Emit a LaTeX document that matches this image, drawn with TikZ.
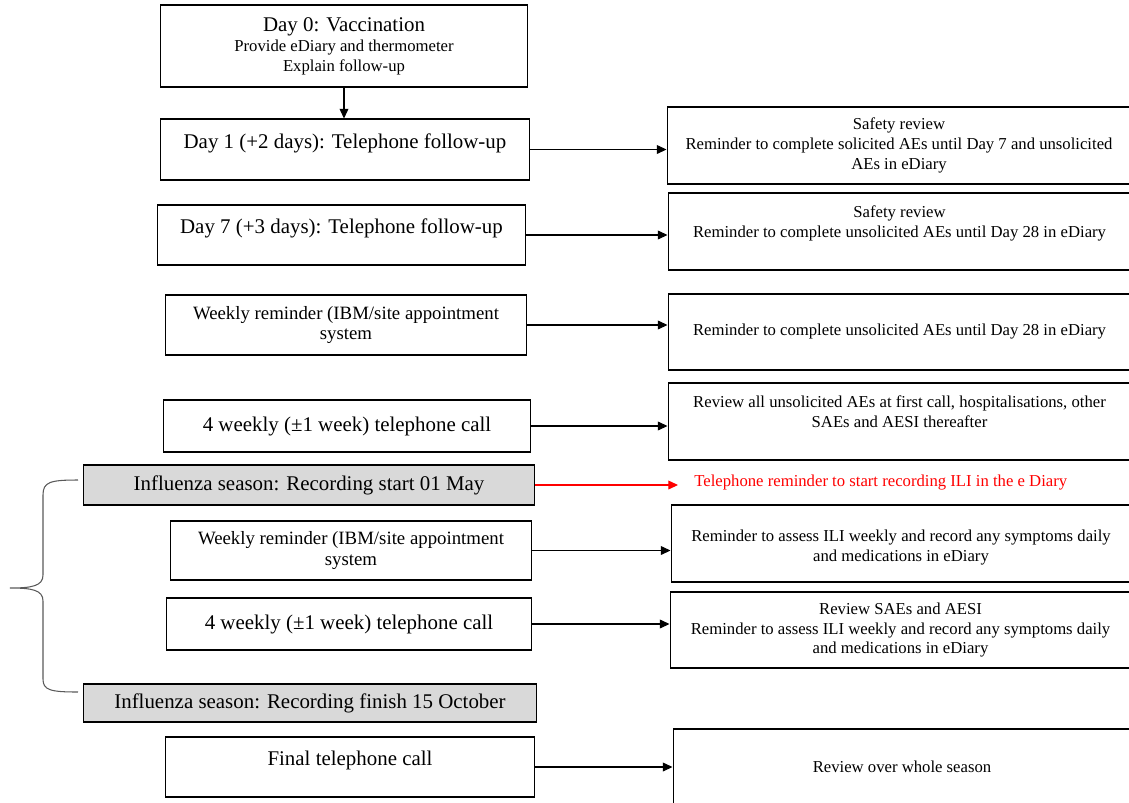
\documentclass[tikz,border=0pt]{standalone}
\usepackage{fontspec}
\setmainfont{Liberation Serif}
\usetikzlibrary{arrows.meta}
\newcommand{\bigtxt}{\fontsize{11.9}{14}\selectfont}
\newcommand{\midtxt}{\fontsize{10.7}{11.9}\selectfont}
\newcommand{\smalltxt}{\fontsize{9.5}{11.3}\selectfont}
\begin{document}
\begin{tikzpicture}[
  x=0.02cm, y=-0.02cm,
  line width=0.6pt,
  box/.style={draw, align=center, inner sep=2pt},
  lbox/.style={box, font=\bigtxt},
  wbox/.style={box, font=\midtxt},
  rbox/.style={box, font=\smalltxt},
  gbox/.style={box, fill=gray!30, font=\bigtxt},
  arr/.style={-{Triangle[length=5.5pt,width=5pt]}}
]
\clip (0,0) rectangle (1129,802);
\node[rbox, minimum width=7.36cm, minimum height=1.64cm] (d0) at (344,46) {{\bigtxt Day 0: Vaccination}\\Provide eDiary and thermometer\\Explain follow-up};
\node[lbox, minimum width=7.40cm, minimum height=1.22cm] (d1) at (345,149.5) {Day 1 (+2 days): Telephone follow-up\\[-4pt]~};
\node[lbox, minimum width=7.38cm, minimum height=1.20cm] (d7) at (341.5,235) {Day 7 (+3 days): Telephone follow-up\\[-4pt]~};
\node[wbox, minimum width=7.24cm, minimum height=1.20cm] (wk1) at (346,325) {Weekly reminder (IBM/site appointment\\system};
\node[lbox, minimum width=7.36cm, minimum height=1.04cm] (call1) at (347,426) {4 weekly (±1 week) telephone call};
\node[gbox, minimum width=9.04cm, minimum height=0.80cm] (start) at (309,485) {Influenza season: Recording start 01 May};
\node[wbox, minimum width=7.24cm, minimum height=1.18cm] (wk2) at (351,550.5) {Weekly reminder (IBM/site appointment\\system};
\node[lbox, minimum width=7.32cm, minimum height=1.04cm] (call2) at (349,624) {4 weekly (±1 week) telephone call};
\node[gbox, minimum width=9.08cm, minimum height=0.76cm] (finish) at (310,703) {Influenza season: Recording finish 15 October};
\node[lbox, minimum width=7.40cm, minimum height=1.20cm] (final) at (350,767) {Final telephone call\\[-4pt]~};

\node[rbox, minimum width=9.28cm, minimum height=1.54cm] (r1) at (899,145.5) {Safety review\\Reminder to complete solicited AEs until Day 7 and unsolicited\\AEs in eDiary};
\node[rbox, minimum width=9.26cm, minimum height=1.54cm] (r2) at (899.5,231.5) {Safety review\\Reminder to complete unsolicited AEs until Day 28 in eDiary\\~};
\node[rbox, minimum width=9.26cm, minimum height=1.52cm] (r3) at (899.5,332) {Reminder to complete unsolicited AEs until Day 28 in eDiary};
\node[rbox, minimum width=9.26cm, minimum height=1.54cm] (r4) at (899.5,421.5) {Review all unsolicited AEs at first call, hospitalisations, other\\SAEs and AESI thereafter\\~};
\node[font=\smalltxt, text=red, anchor=west, inner xsep=9pt] (ili) at (678,482) {Telephone reminder to start recording ILI in the e Diary};
\node[rbox, minimum width=9.20cm, minimum height=1.54cm] (r5) at (901,543.5) {~\\Reminder to assess ILI weekly and record any symptoms daily\\and medications in eDiary};
\node[rbox, minimum width=9.22cm, minimum height=1.52cm] (r6) at (900.5,630) {Review SAEs and AESI\\Reminder to assess ILI weekly and record any symptoms daily\\and medications in eDiary};
\node[rbox, minimum width=9.16cm, minimum height=1.52cm] (r7) at (902,767) {Review over whole season};

\draw[arr] (d0.south) -- (d0.south |- d1.north);
\draw[arr] (d1.east) -- (d1.east -| r1.west);
\draw[arr] (d7.east) -- (d7.east -| r2.west);
\draw[arr] (wk1.east) -- (wk1.east -| r3.west);
\draw[arr] (call1.east) -- (call1.east -| r4.west);
\draw[arr, red] (start.east) -- (start.east -| ili.west);
\draw[arr] (wk2.east) -- (wk2.east -| r5.west);
\draw[arr] (call2.east) -- (call2.east -| r6.west);
\draw[arr] (final.east) -- (final.east -| r7.west);

\draw[gray!70!black] (78,480) .. controls (50,480) and (43,482) .. (43,495) -- (43,575)
  .. controls (43,586) and (32,588) .. (10,588) .. controls (32,588) and (43,590) .. (43,601)
  -- (43,679) .. controls (43,690) and (50,692) .. (78,692);
\end{tikzpicture}
\end{document}
